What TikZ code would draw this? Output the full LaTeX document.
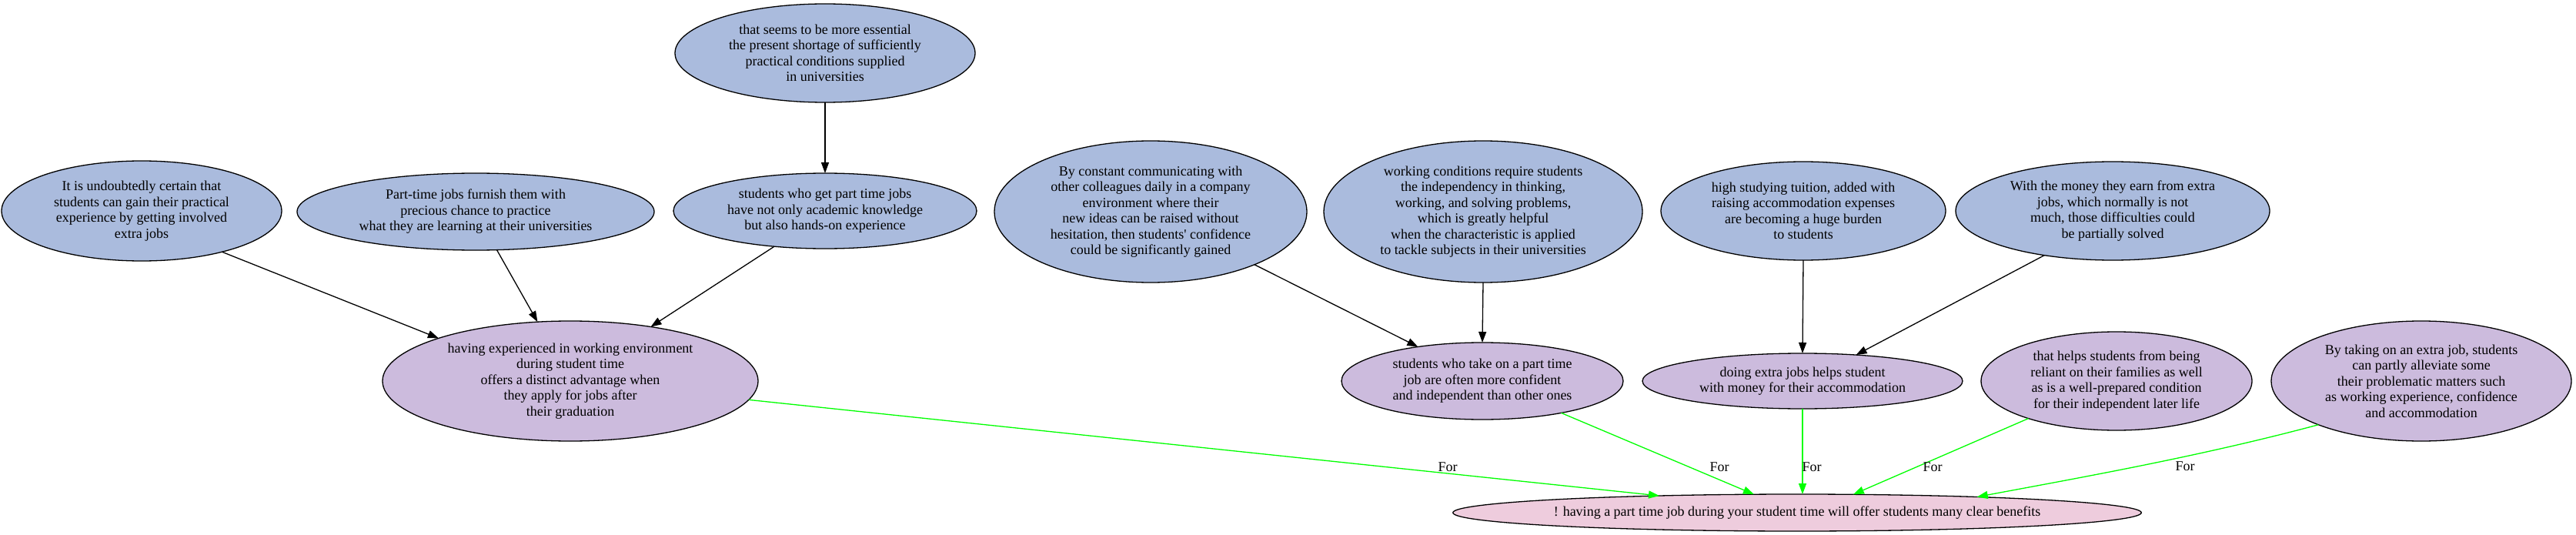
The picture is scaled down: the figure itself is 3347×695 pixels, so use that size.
\documentclass[tikz,border=0pt]{standalone}
\usepackage{fontspec}
\setmainfont{Liberation Serif}
\usetikzlibrary{arrows.meta,shapes.geometric}
\definecolor{nblue}{HTML}{AABBDD}
\definecolor{npurple}{HTML}{CCBBDD}
\definecolor{npink}{HTML}{EECCDD}
\definecolor{egreen}{HTML}{00FF00}
\begin{document}
\begin{tikzpicture}[x=1pt,y=-1pt,
  every node/.style={font=\fontsize{18}{20.5}\selectfont},
  argbox/.style={ellipse, draw=black, line width=1.3pt, inner sep=0pt, outer sep=0pt, align=center},
  bluen/.style={argbox, fill=nblue},
  purplen/.style={argbox, fill=npurple},
  pinkn/.style={argbox, fill=npink},
  edge/.style={line width=1.3pt, draw=black, -{Triangle[length=14pt,width=10pt]}},
  gedge/.style={edge, draw=egreen},
  lbl/.style={inner sep=0pt}]
\path[use as bounding box, fill=white] (0,0) rectangle (3347,695);

% rank 0
\node[bluen, minimum width=390pt, minimum height=128pt] (A0) at (1072,69)
  {that seems to be more essential\\the present shortage of sufficiently\\practical conditions supplied\\in universities};

% rank 1
\node[bluen, minimum width=364pt, minimum height=130pt] (A1) at (184,274)
  {It is undoubtedly certain that\\students can gain their practical\\experience by getting involved\\extra jobs};
\node[bluen, minimum width=464pt, minimum height=100pt] (A2) at (618,275)
  {Part-time jobs furnish them with\\precious chance to practice\\what they are learning at their universities};
\node[bluen, minimum width=394pt, minimum height=98pt] (A3) at (1072,274)
  {students who get part time jobs\\have not only academic knowledge\\but also hands-on experience};
\node[bluen, minimum width=406pt, minimum height=184pt] (C0) at (1495,275)
  {By constant communicating with\\other colleagues daily in a company\\environment where their\\new ideas can be raised without\\hesitation, then students\textquotesingle\ confidence\\could be significantly gained};
\node[bluen, minimum width=414pt, minimum height=184pt] (C1) at (1927,275)
  {working conditions require students\\the independency in thinking,\\working, and solving problems,\\which is greatly helpful\\when the characteristic is applied\\to tackle subjects in their universities};
\node[bluen, minimum width=370pt, minimum height=128pt] (D0) at (2343,274)
  {high studying tuition, added with\\raising accommodation expenses\\are becoming a huge burden\\to students};
\node[bluen, minimum width=408pt, minimum height=128pt] (D1) at (2745,274)
  {With the money they earn from extra\\jobs, which normally is not\\much, those difficulties could\\be partially solved};

% rank 2
\node[purplen, minimum width=488pt, minimum height=156pt] (B1) at (741,495)
  {having experienced in working environment\\during student time\\offers a distinct advantage when\\they apply for jobs after\\their graduation};
\node[purplen, minimum width=366pt, minimum height=100pt] (B2) at (1926,495)
  {students who take on a part time\\job are often more confident\\and independent than other ones};
\node[purplen, minimum width=416pt, minimum height=72pt] (B3) at (2342,495)
  {doing extra jobs helps student\\with money for their accommodation};
\node[purplen, minimum width=352pt, minimum height=128pt] (E0) at (2750,495)
  {that helps students from being\\reliant on their families as well\\as is a well-prepared condition\\for their independent later life};
\node[purplen, minimum width=390pt, minimum height=156pt] (E1) at (3146,495)
  {By taking on an extra job, students\\can partly alleviate some\\their problematic matters such\\as working experience, confidence\\and accommodation};

% rank 3
\node[pinkn, minimum width=850pt, minimum height=48pt] (R) at (2335,666)
  {! having a part time job during your student time will offer students many clear benefits};

% black edges
\draw[edge] (A0.south) -- (A3.north);
\draw[edge] (A1.-27.4) -- (B1.162.5);
\draw[edge] (A2.-61.2) -- (B1.119.2);
\draw[edge] (A3.-145.6) -- (B1.34.2);
\draw[edge] (C0.-27.1) -- (B2.152.9);
\draw[edge] (C1.south) -- (B2.north);
\draw[edge] (D0.south) -- (B3.north);
\draw[edge] (D1.-147.8) -- (B3.26.9);

% green edges
\draw[gedge] (B1.-6.2) -- (R.173.8);
\draw[gedge] (B2.-22.2) -- (R.157.35);
\draw[gedge] (B3.south) -- (B3.south |- R.north);
\draw[gedge] (E0.-157.5) -- (R.18.18);
\draw[gedge] (E1.-157.6) .. controls (2858,593) and (2705,620) .. (R.5.33);

% labels
\node[lbl] (L1) at (1881,607) {For};
\node[lbl] (L2) at (2234,607) {For};
\node[lbl] (L3) at (2354,607) {For};
\node[lbl] (L4) at (2511,607) {For};
\node[lbl] (L5) at (2839,606) {For};
\end{tikzpicture}
\end{document}
